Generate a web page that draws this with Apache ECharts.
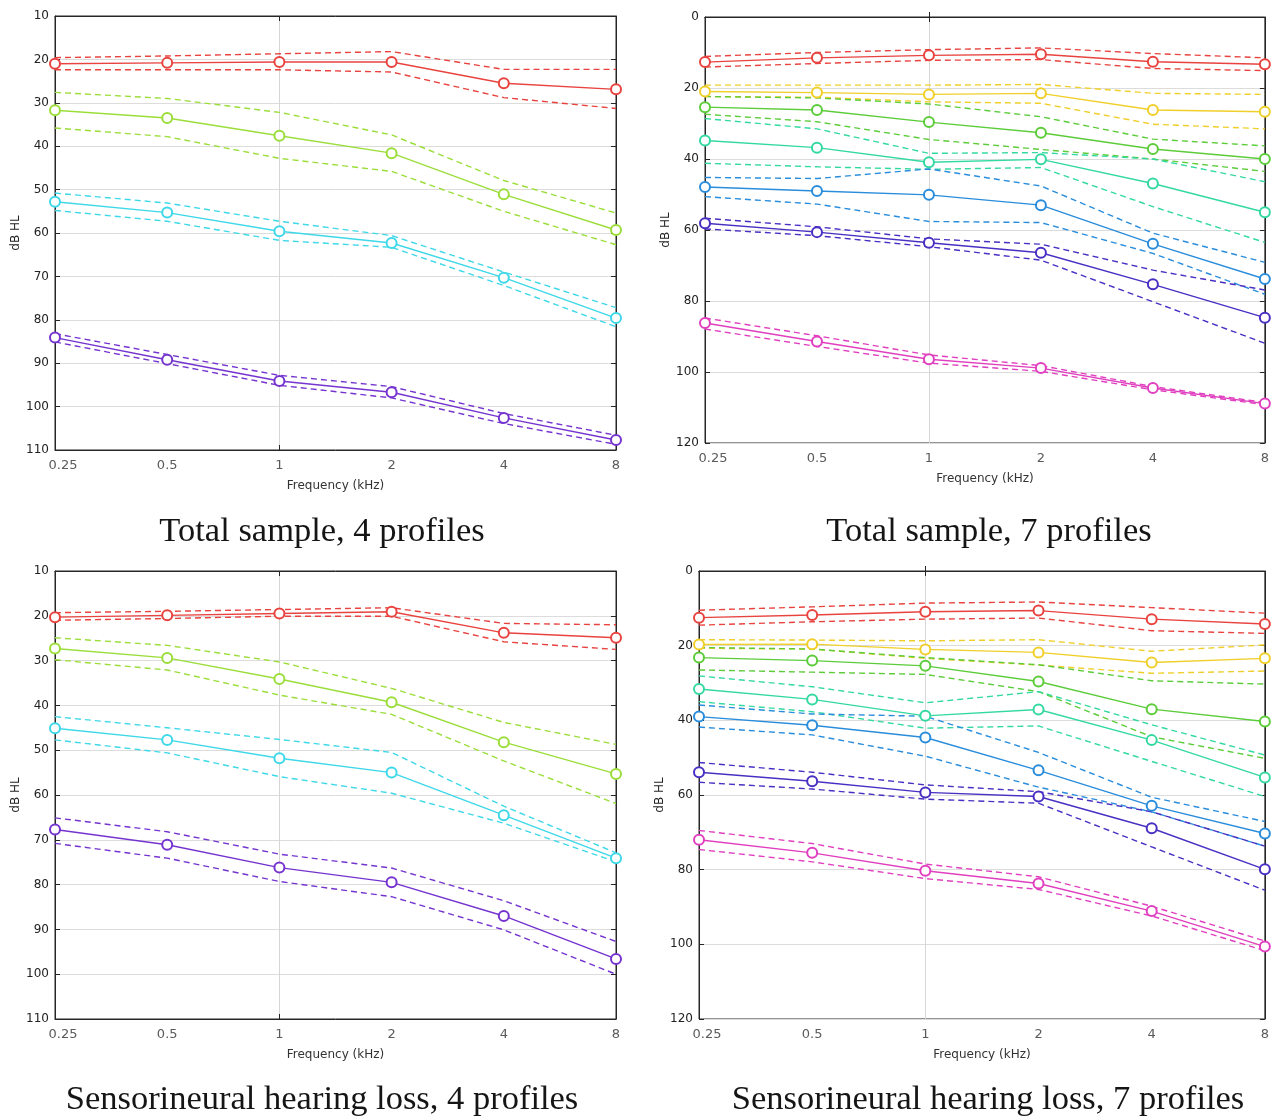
<!DOCTYPE html>
<html>
<head>
<meta charset="utf-8">
<title>Audiometric profiles</title>
<script src="https://cdn.jsdelivr.net/npm/echarts@6/dist/echarts.min.js"></script>
<style>
  html, body { margin: 0; padding: 0; background: #ffffff; }
  #chart { width: 1272px; height: 1119px; }
</style>
</head>
<body>
<div id="chart"></div>
<script>
// Test frequencies (kHz), equally spaced in octaves
const freqLabels = ['0.25', '0.5', '1', '2', '4', '8'];

// Total sample, 4 profiles: mean threshold (dB HL) and confidence limits
const total4Mean = [
  [21.0, 20.8, 20.6, 20.6, 25.5, 26.9],
  [31.7, 33.5, 37.6, 41.6, 51.1, 59.3],
  [52.8, 55.3, 59.6, 62.3, 70.3, 79.6],
  [84.1, 89.2, 94.1, 96.7, 102.6, 107.7]
];
const total4Upper = [
  [19.6, 19.2, 18.7, 18.2, 22.3, 22.3],
  [27.6, 29.0, 32.2, 37.4, 47.9, 55.4],
  [50.8, 53.1, 57.3, 60.6, 69.0, 77.2],
  [83.2, 88.0, 92.8, 95.4, 101.6, 106.6]
];
const total4Lower = [
  [22.4, 22.4, 22.4, 22.9, 28.8, 31.3],
  [35.8, 37.8, 42.8, 45.8, 55.0, 62.7],
  [54.8, 57.3, 61.7, 63.3, 72.1, 81.6],
  [85.1, 90.1, 95.1, 98.0, 103.9, 108.7]
];

// Total sample, 7 profiles
const total7Mean = [
  [12.7, 11.5, 10.8, 10.5, 12.6, 13.3],
  [21.0, 21.3, 21.8, 21.5, 26.2, 26.7],
  [25.4, 26.2, 29.6, 32.6, 37.2, 40.0],
  [34.8, 36.8, 40.9, 40.1, 46.9, 55.0],
  [47.9, 49.0, 50.1, 53.0, 63.9, 73.8],
  [58.1, 60.6, 63.6, 66.4, 75.3, 84.7],
  [86.2, 91.4, 96.4, 98.9, 104.5, 108.9]
];
const total7Upper = [
  [11.1, 10.0, 9.2, 8.7, 10.3, 11.5],
  [19.2, 19.2, 19.2, 19.0, 21.5, 21.8],
  [22.4, 22.8, 24.5, 28.1, 34.4, 36.3],
  [28.6, 31.5, 38.4, 38.2, 40.0, 46.4],
  [45.2, 45.5, 42.8, 47.6, 60.9, 69.1],
  [56.7, 59.1, 62.5, 64.0, 71.3, 76.9],
  [84.8, 89.8, 95.2, 98.2, 104.1, 108.6]
];
const total7Lower = [
  [14.1, 13.1, 12.2, 12.0, 14.5, 15.1],
  [22.4, 22.6, 23.9, 24.3, 30.2, 31.5],
  [27.4, 29.5, 34.5, 37.3, 40.0, 43.5],
  [41.2, 42.2, 42.9, 42.4, 53.4, 63.5],
  [50.6, 52.7, 57.6, 57.9, 66.6, 78.1],
  [59.7, 61.6, 64.7, 68.5, 80.2, 91.9],
  [87.9, 92.8, 97.5, 99.8, 105.0, 109.2]
];

// Sensorineural hearing loss, 4 profiles
const snhl4Mean = [
  [20.3, 19.9, 19.5, 19.1, 23.8, 24.9],
  [27.3, 29.4, 34.1, 39.3, 48.2, 55.3],
  [45.1, 47.7, 51.8, 55.0, 64.5, 74.1],
  [67.7, 71.1, 76.2, 79.5, 87.0, 96.6]
];
const snhl4Upper = [
  [19.3, 19.0, 18.6, 18.2, 21.7, 22.0],
  [24.9, 26.6, 30.3, 36.2, 43.8, 48.7],
  [42.5, 45.0, 47.6, 50.5, 62.5, 72.9],
  [65.1, 68.2, 73.2, 76.3, 83.6, 92.7]
];
const snhl4Lower = [
  [21.0, 20.6, 20.1, 20.1, 25.8, 27.5],
  [29.8, 32.1, 37.7, 42.0, 52.4, 61.9],
  [47.7, 50.6, 55.9, 59.6, 66.3, 74.9],
  [70.8, 74.1, 79.3, 82.7, 90.1, 100.0]
];

// Sensorineural hearing loss, 7 profiles
const snhl7Mean = [
  [12.5, 11.8, 10.9, 10.6, 12.9, 14.2],
  [19.7, 19.6, 21.0, 21.8, 24.5, 23.4],
  [23.2, 24.0, 25.4, 29.6, 37.0, 40.3],
  [31.6, 34.4, 38.8, 37.1, 45.3, 55.3],
  [39.0, 41.3, 44.6, 53.4, 62.9, 70.3],
  [53.9, 56.3, 59.3, 60.4, 68.9, 79.9],
  [72.0, 75.5, 80.3, 83.7, 91.1, 100.6]
];
const snhl7Upper = [
  [10.5, 9.6, 8.6, 8.3, 9.8, 11.3],
  [18.4, 18.5, 18.7, 18.4, 21.5, 19.8],
  [20.5, 20.9, 23.2, 25.1, 29.4, 30.3],
  [28.1, 31.0, 35.3, 32.3, 41.2, 49.3],
  [35.9, 38.3, 38.9, 48.6, 60.6, 67.1],
  [51.3, 53.9, 57.3, 59.1, 64.5, 73.7],
  [69.5, 73.0, 78.5, 81.9, 89.8, 99.1]
];
const snhl7Lower = [
  [14.5, 13.6, 12.9, 12.6, 16.0, 16.7],
  [20.7, 20.9, 23.4, 25.2, 27.4, 26.8],
  [26.5, 27.1, 27.7, 32.3, 44.4, 50.2],
  [35.0, 37.7, 42.1, 41.5, 51.0, 60.4],
  [41.8, 43.9, 49.6, 57.9, 64.5, 73.7],
  [56.6, 58.4, 61.1, 62.2, 73.9, 85.5],
  [74.6, 77.9, 82.4, 85.3, 92.4, 101.7]
];

// Panel titles
const panelTitles = [
  'Total sample, 4 profiles',
  'Total sample, 7 profiles',
  'Sensorineural hearing loss, 4 profiles',
  'Sensorineural hearing loss, 7 profiles'
];

// Profile colours
const colors4 = ['#e8433f', '#9bde3a', '#3ed8e8', '#7534cf'];
const colors7 = ['#e8433f', '#f0cf2a', '#5ccc3a', '#34d9a0', '#2a8ddb', '#4a2fc3', '#e03fbf'];

const panels = [
  { grid: { left: 55, top: 16, width: 561, height: 434 }, yMin: 10, yMax: 110, yStep: 10,
    mean: total4Mean, upper: total4Upper, lower: total4Lower, colors: colors4, titleX: 322, titleY: 532 },
  { grid: { left: 705, top: 17, width: 562, height: 426 }, yMin: 0, yMax: 120, yStep: 20,
    mean: total7Mean, upper: total7Upper, lower: total7Lower, colors: colors7, titleX: 989, titleY: 532 },
  { grid: { left: 55, top: 571, width: 561, height: 448 }, yMin: 10, yMax: 110, yStep: 10,
    mean: snhl4Mean, upper: snhl4Upper, lower: snhl4Lower, colors: colors4, titleX: 322, titleY: 1100 },
  { grid: { left: 699, top: 571, width: 568, height: 448 }, yMin: 0, yMax: 120, yStep: 20,
    mean: snhl7Mean, upper: snhl7Upper, lower: snhl7Lower, colors: colors7, titleX: 988, titleY: 1100 }
];

const axisFont = 'DejaVu Sans';
const onlyOneKHz = function (index, value) { return value === '1'; };

const grids = [];
const xAxes = [];
const yAxes = [];
const series = [];
const graphics = [];

panels.forEach(function (p, pi) {
  grids.push(Object.assign({
    show: true,
    borderColor: '#262626',
    borderWidth: 1,
    backgroundColor: 'transparent',
    containLabel: false
  }, p.grid));

  // bottom frequency axis; the first label is nudged inside the frame
  xAxes.push({
    gridIndex: pi,
    type: 'category',
    data: freqLabels,
    boundaryGap: false,
    position: 'bottom',
    name: 'Frequency (kHz)',
    nameLocation: 'middle',
    nameGap: 30,
    nameTextStyle: { fontFamily: axisFont, fontSize: 12, color: '#333' },
    axisLine: { show: true, lineStyle: { color: '#262626', width: 1 } },
    axisTick: { show: true, inside: true, length: 5, interval: onlyOneKHz, lineStyle: { color: '#262626' } },
    axisLabel: {
      fontFamily: axisFont, fontSize: 13, color: '#5a5a5a', margin: 9, interval: 0,
      formatter: function (v, i) { return i === 0 ? '{first|' + v + '}' : v; },
      rich: { first: { fontFamily: axisFont, fontSize: 13, color: '#5a5a5a', padding: [0, 0, 0, 16] } }
    },
    splitLine: { show: true, interval: onlyOneKHz, lineStyle: { color: '#d6d6d6', width: 1 } }
  });
  // top frame axis carrying the 1 kHz tick
  xAxes.push({
    gridIndex: pi,
    type: 'category',
    data: freqLabels,
    boundaryGap: false,
    position: 'top',
    axisLine: { show: true, lineStyle: { color: '#262626', width: 1 } },
    axisTick: { show: true, inside: true, length: 5, interval: onlyOneKHz, lineStyle: { color: '#262626' } },
    axisLabel: { show: false },
    splitLine: { show: false }
  });

  // left hearing-level axis (higher dB drawn lower)
  yAxes.push({
    gridIndex: pi,
    type: 'value',
    inverse: true,
    min: p.yMin,
    max: p.yMax,
    interval: p.yStep,
    position: 'left',
    name: 'dB HL',
    nameLocation: 'middle',
    nameGap: 30,
    nameTextStyle: { fontFamily: axisFont, fontSize: 12, color: '#222' },
    axisLine: { show: true, lineStyle: { color: '#262626', width: 1 } },
    axisTick: { show: true, inside: true, length: 5, lineStyle: { color: '#262626' } },
    axisLabel: { fontFamily: axisFont, fontSize: 12, color: '#222', margin: 6 },
    splitLine: { show: true, lineStyle: { color: '#dcdcdc', width: 1 } }
  });
  // right frame axis with inward ticks
  yAxes.push({
    gridIndex: pi,
    type: 'value',
    inverse: true,
    min: p.yMin,
    max: p.yMax,
    interval: p.yStep,
    position: 'right',
    axisLine: { show: true, lineStyle: { color: '#262626', width: 1 } },
    axisTick: { show: true, inside: true, length: 5, lineStyle: { color: '#262626' } },
    axisLabel: { show: false },
    splitLine: { show: false }
  });

  p.mean.forEach(function (vals, k) {
    const c = p.colors[k];
    [p.upper[k], p.lower[k]].forEach(function (band) {
      series.push({
        type: 'line',
        xAxisIndex: pi * 2,
        yAxisIndex: pi * 2,
        data: band,
        showSymbol: false,
        symbol: 'none',
        silent: true,
        lineStyle: { color: c, width: 1.4, type: [6, 4] },
        z: 2
      });
    });
    series.push({
      type: 'line',
      xAxisIndex: pi * 2,
      yAxisIndex: pi * 2,
      data: vals,
      symbol: 'emptyCircle',
      symbolSize: 10,
      showSymbol: true,
      silent: true,
      itemStyle: { color: c, borderColor: c, borderWidth: 1.3 },
      lineStyle: { color: c, width: 1.4 },
      z: 3
    });
  });

  graphics.push({
    type: 'text',
    x: p.titleX,
    y: p.titleY,
    style: {
      text: panelTitles[pi],
      fontFamily: 'Liberation Serif',
      fontSize: 34.5,
      fill: '#151515',
      align: 'center',
      verticalAlign: 'middle'
    }
  });
});

const chart = echarts.init(document.getElementById('chart'), null, { renderer: 'canvas' });
chart.setOption({
  backgroundColor: '#ffffff',
  animation: false,
  grid: grids,
  xAxis: xAxes,
  yAxis: yAxes,
  series: series,
  graphic: graphics
});
</script>
</body>
</html>
